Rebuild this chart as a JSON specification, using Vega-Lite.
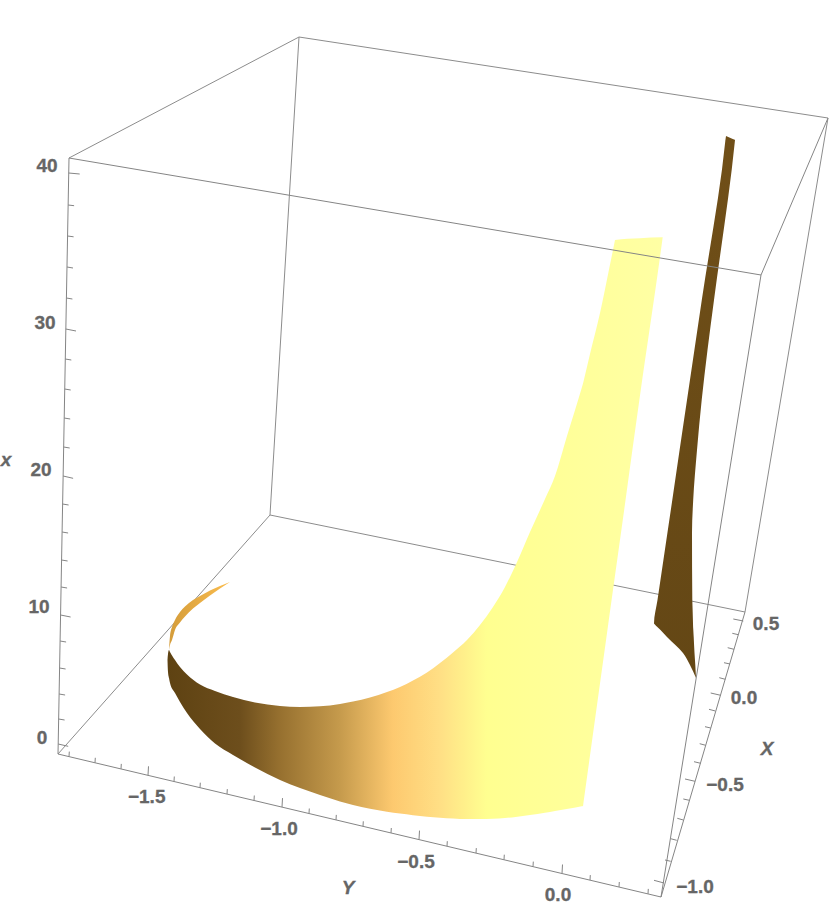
{"$schema":"https://vega.github.io/schema/vega-lite/v6.json","width":830,"height":922,"padding":0,"autosize":{"type":"none"},"background":"white","view":{"stroke":null},
"datasets":{
"backEdges":[{"x0":69,"y0":158,"x1":299,"y1":37},{"x0":299,"y0":37,"x1":828,"y1":118},{"x0":299,"y0":37,"x1":270,"y1":515},{"x0":270,"y0":515,"x1":58,"y1":754},{"x0":270,"y0":515,"x1":745,"y1":612},{"x0":828,"y0":118,"x1":745,"y1":612}],
"frontEdges":[{"x0":69,"y0":158,"x1":761,"y1":275},{"x0":761,"y0":275,"x1":828,"y1":118},{"x0":761,"y0":275,"x1":661,"y1":897},{"x0":58,"y0":754,"x1":661,"y1":897},{"x0":661,"y0":897,"x1":745,"y1":612},{"x0":69,"y0":158,"x1":58,"y1":754}],
"ticks":[
{"x0":68.7,"y0":173,"x1":79.7,"y1":174},{"x0":68.1,"y0":205,"x1":74.1,"y1":205.7},{"x0":67.6,"y0":236,"x1":73.6,"y1":236.8},{"x0":67,"y0":267,"x1":73,"y1":268},{"x0":66.4,"y0":298,"x1":72.4,"y1":299},{"x0":65.8,"y0":329,"x1":76,"y1":331},{"x0":65.3,"y0":359,"x1":71.3,"y1":360},{"x0":64.7,"y0":389,"x1":70.7,"y1":390},{"x0":64.2,"y0":418,"x1":70.2,"y1":419},{"x0":63.7,"y0":447,"x1":69.7,"y1":448},{"x0":63.1,"y0":476,"x1":73.1,"y1":478.3},{"x0":62.6,"y0":504,"x1":68.6,"y1":505},{"x0":62.1,"y0":532,"x1":68.1,"y1":533},{"x0":61.6,"y0":560,"x1":67.6,"y1":561},{"x0":61.1,"y0":587,"x1":67.1,"y1":588},{"x0":60.6,"y0":615,"x1":70.6,"y1":617},{"x0":60.1,"y0":641,"x1":66.1,"y1":642},{"x0":59.6,"y0":668,"x1":65.6,"y1":669},{"x0":59.1,"y0":694,"x1":65.1,"y1":695},{"x0":58.6,"y0":719,"x1":64.6,"y1":720},{"x0":58.2,"y0":744,"x1":68.2,"y1":746.3},
{"x0":69,"y0":756.6,"x1":69.3,"y1":751.6},{"x0":95,"y0":762.8,"x1":95.3,"y1":757.8},{"x0":121,"y0":768.9,"x1":121.3,"y1":763.9},{"x0":148,"y0":775.3,"x1":148.5,"y1":766.3},{"x0":174,"y0":781.5,"x1":174.3,"y1":776.5},{"x0":200,"y0":787.7,"x1":200.3,"y1":782.7},{"x0":227,"y0":794.1,"x1":227.3,"y1":789.1},{"x0":254,"y0":800.5,"x1":254.3,"y1":795.5},{"x0":282,"y0":807.1,"x1":282.5,"y1":798.1},{"x0":309,"y0":813.5,"x1":309.3,"y1":808.5},{"x0":336,"y0":819.9,"x1":336.3,"y1":814.9},{"x0":363,"y0":826.3,"x1":363.3,"y1":821.3},{"x0":391,"y0":833,"x1":391.3,"y1":828},{"x0":419,"y0":839.6,"x1":419.5,"y1":830.6},{"x0":447,"y0":846.2,"x1":447.3,"y1":841.2},{"x0":476,"y0":853.1,"x1":476.3,"y1":848.1},{"x0":504,"y0":859.7,"x1":504.3,"y1":854.7},{"x0":533,"y0":866.6,"x1":533.3,"y1":861.6},{"x0":562,"y0":873.5,"x1":562.5,"y1":864.5},{"x0":590,"y0":880.1,"x1":590.3,"y1":875.1},{"x0":619,"y0":887,"x1":619.3,"y1":882},{"x0":648,"y0":893.9,"x1":648.3,"y1":888.9},
{"x0":743.3,"y0":621,"x1":733.3,"y1":619},{"x0":738.3,"y0":634.7,"x1":732.3,"y1":633.3},{"x0":734,"y0":649.3,"x1":727.7,"y1":647.7},{"x0":730,"y0":664,"x1":724,"y1":662.7},{"x0":725.3,"y0":679.3,"x1":719.3,"y1":677.7},{"x0":720.7,"y0":695.3,"x1":710.7,"y1":693},{"x0":715.3,"y0":711,"x1":709,"y1":709.3},{"x0":710.7,"y0":728,"x1":705,"y1":726.7},{"x0":705.7,"y0":745.3,"x1":699.7,"y1":743.7},{"x0":700.7,"y0":763.3,"x1":694,"y1":761.7},{"x0":695,"y0":781.3,"x1":685,"y1":779},{"x0":689.3,"y0":800.3,"x1":683.3,"y1":799},{"x0":683.3,"y0":820,"x1":677.3,"y1":818.3},{"x0":676.7,"y0":840.3,"x1":670.7,"y1":838.7},{"x0":670.7,"y0":861.3,"x1":665,"y1":860},{"x0":664,"y0":883,"x1":654,"y1":880.3}],
"ribbon":[{"x":167.5,"top":660,"bot":660},{"x":168,"top":654,"bot":672},{"x":169,"top":650,"bot":678},{"x":170,"top":652,"bot":683},{"x":175,"top":660,"bot":693},{"x":180,"top":667,"bot":702},{"x":187,"top":674.5,"bot":713},{"x":200,"top":684.5,"bot":729},{"x":215,"top":691,"bot":743.5},{"x":233,"top":697,"bot":755},{"x":255,"top":702.5,"bot":767.5},{"x":280,"top":706,"bot":780},{"x":300,"top":707,"bot":788},{"x":320,"top":706.3,"bot":795},{"x":340,"top":704,"bot":801.5},{"x":353,"top":701.5,"bot":805},{"x":370,"top":697.5,"bot":808.7},{"x":387,"top":692,"bot":811.7},{"x":400,"top":687,"bot":813.5},{"x":413,"top":680.5,"bot":815.2},{"x":427,"top":672.5,"bot":816.7},{"x":440,"top":663,"bot":817.7},{"x":453,"top":652.5,"bot":818.4},{"x":467,"top":640,"bot":819},{"x":480,"top":625,"bot":819},{"x":493,"top":607,"bot":818.7},{"x":505,"top":587,"bot":818},{"x":515.7,"top":565,"bot":817},{"x":530,"top":532,"bot":815},{"x":545,"top":499,"bot":812.8},{"x":555,"top":476,"bot":811},{"x":566.7,"top":437,"bot":809},{"x":581.7,"top":388,"bot":806.3},{"x":583,"top":383.5,"bot":806},{"x":583.5,"top":381.5,"bot":802.4},{"x":590,"top":354,"bot":755.6},{"x":600,"top":313,"bot":683.6},{"x":608.3,"top":273,"bot":623.8},{"x":614.8,"top":241,"bot":577},{"x":615,"top":240,"bot":575.6},{"x":640,"top":238.3,"bot":395.6},{"x":662.2,"top":237.3,"bot":241},{"x":662.7,"top":237.3,"bot":237.3}],
"curl":[{"x":169,"top":650,"bot":650},{"x":170,"top":636,"bot":645},{"x":172,"top":627,"bot":640},{"x":175,"top":620,"bot":630},{"x":180,"top":612,"bot":622.5},{"x":185,"top":606.5,"bot":616.5},{"x":193,"top":600,"bot":608.5},{"x":200,"top":596,"bot":603},{"x":210,"top":590.5,"bot":595.5},{"x":220,"top":586,"bot":588.5},{"x":230,"top":582,"bot":582}],
"strip":[{"y":136,"left":726,"right":726},{"y":137,"left":725.9,"right":728.25},{"y":138,"left":725.7,"right":730.5},{"y":139,"left":725.6,"right":732.75},{"y":140,"left":725.4,"right":735},{"y":141,"left":725.3,"right":734.9},{"y":300,"left":701.8,"right":714},{"y":350,"left":694.4,"right":707.5},{"y":400,"left":687,"right":701.7},{"y":450,"left":679.6,"right":697},{"y":500,"left":672.3,"right":693.2},{"y":533,"left":667.4,"right":692},{"y":600,"left":657.5,"right":692.3},{"y":623.5,"left":654,"right":693},{"y":624,"left":654.4,"right":693},{"y":630,"left":660.5,"right":693.3},{"y":637,"left":667,"right":693.7},{"y":653,"left":683,"right":694.5},{"y":665,"left":690,"right":695.3},{"y":678,"left":696,"right":696}],
"labels":[{"x":47,"y":166,"label":"40"},{"x":45,"y":323,"label":"30"},{"x":41,"y":470,"label":"20"},{"x":39,"y":607,"label":"10"},{"x":42,"y":738,"label":"0"},{"x":146.7,"y":797,"label":"−1.5"},{"x":279,"y":829,"label":"−1.0"},{"x":416,"y":862,"label":"−0.5"},{"x":558,"y":895,"label":"0.0"},{"x":766,"y":624,"label":"0.5"},{"x":744,"y":698,"label":"0.0"},{"x":725,"y":785,"label":"−0.5"},{"x":695,"y":887,"label":"−1.0"}],
"axisTitles":[{"x":6,"y":460,"label":"x"},{"x":767,"y":749,"label":"X"},{"x":348,"y":888,"label":"Y"}]
},
"layer":[
{"data":{"name":"backEdges"},"mark":{"type":"rule","stroke":"#8c8c8c","strokeWidth":1},"encoding":{"x":{"field":"x0","type":"quantitative","scale":{"domain":[0,830],"nice":false,"zero":false},"axis":null},"y":{"field":"y0","type":"quantitative","scale":{"domain":[922,0],"nice":false,"zero":false},"axis":null},"x2":{"field":"x1"},"y2":{"field":"y1"}}},
{"data":{"name":"ribbon"},"mark":{"type":"area","line":false,"interpolate":"monotone","fill":{"gradient":"linear","x1":0,"y1":0,"x2":1,"y2":0,"stops":[{"offset":0,"color":"#5e4212"},{"offset":0.146,"color":"#6d4e1c"},{"offset":0.226,"color":"#96702f"},{"offset":0.347,"color":"#c59a4c"},{"offset":0.455,"color":"#fdc96f"},{"offset":0.55,"color":"#ffdf85"},{"offset":0.645,"color":"#ffff90"},{"offset":1,"color":"#ffffa4"}]}},"encoding":{"x":{"field":"x","type":"quantitative","axis":null},"y":{"field":"top","type":"quantitative","axis":null},"y2":{"field":"bot"}}},
{"data":{"name":"curl"},"mark":{"type":"area","line":false,"interpolate":"monotone","fill":{"gradient":"linear","x1":0,"y1":0,"x2":1,"y2":0,"stops":[{"offset":0,"color":"#d49c3a"},{"offset":1,"color":"#fbbd4e"}]}},"encoding":{"x":{"field":"x","type":"quantitative","axis":null},"y":{"field":"top","type":"quantitative","axis":null},"y2":{"field":"bot"}}},
{"data":{"name":"strip"},"mark":{"type":"area","orient":"horizontal","line":false,"interpolate":"monotone","fill":{"gradient":"linear","x1":0,"y1":0,"x2":0,"y2":1,"stops":[{"offset":0,"color":"#704f18"},{"offset":1,"color":"#644715"}]}},"encoding":{"y":{"field":"y","type":"quantitative","axis":null},"x":{"field":"left","type":"quantitative","axis":null},"x2":{"field":"right"}}},
{"data":{"name":"frontEdges"},"mark":{"type":"rule","stroke":"#858585","strokeWidth":1},"encoding":{"x":{"field":"x0","type":"quantitative","axis":null},"y":{"field":"y0","type":"quantitative","axis":null},"x2":{"field":"x1"},"y2":{"field":"y1"}}},
{"data":{"name":"ticks"},"mark":{"type":"rule","stroke":"#858585","strokeWidth":1},"encoding":{"x":{"field":"x0","type":"quantitative","axis":null},"y":{"field":"y0","type":"quantitative","axis":null},"x2":{"field":"x1"},"y2":{"field":"y1"}}},
{"data":{"name":"labels"},"mark":{"type":"text","font":"Liberation Sans","fontWeight":"bold","fontSize":19,"fill":"#666666","stroke":"#666666","strokeWidth":0.3,"align":"center","baseline":"middle"},"encoding":{"x":{"field":"x","type":"quantitative","axis":null},"y":{"field":"y","type":"quantitative","axis":null},"text":{"field":"label"}}},
{"data":{"name":"axisTitles"},"mark":{"type":"text","font":"Liberation Sans","fontWeight":"bold","fontStyle":"italic","fontSize":19,"fill":"#666666","stroke":"#666666","strokeWidth":0.3,"align":"center","baseline":"middle"},"encoding":{"x":{"field":"x","type":"quantitative","axis":null},"y":{"field":"y","type":"quantitative","axis":null},"text":{"field":"label"}}}
]}
